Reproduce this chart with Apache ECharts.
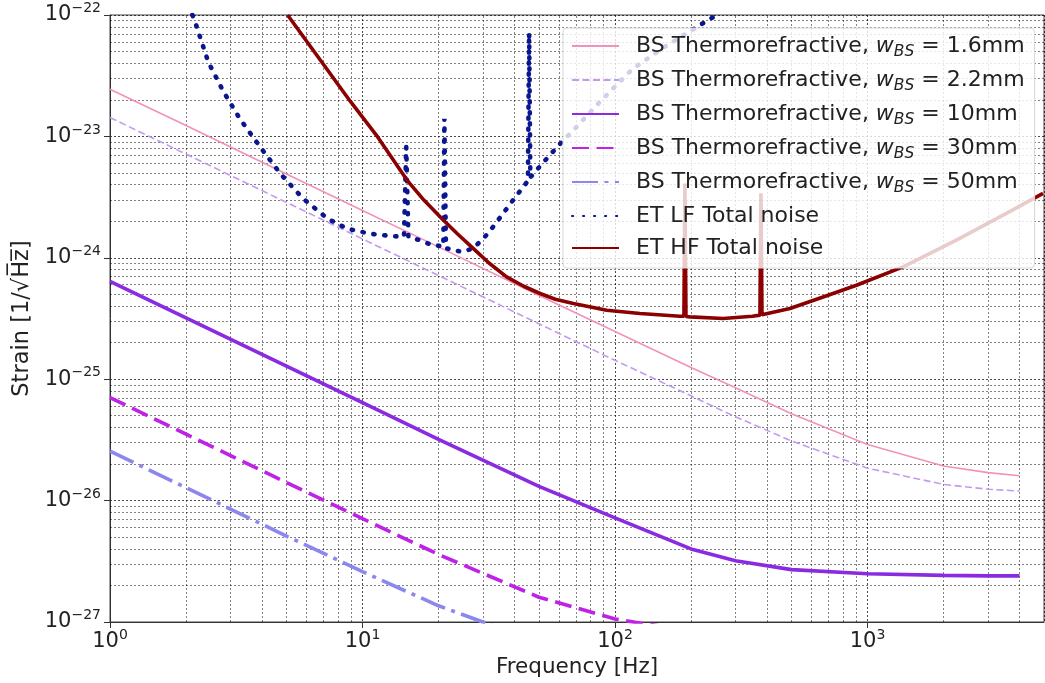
<!DOCTYPE html>
<html>
<head>
<meta charset="utf-8">
<script src="https://cdn.jsdelivr.net/npm/echarts@6/dist/echarts.min.js"></script>
<style>
  html, body { margin: 0; padding: 0; background: #fff; }
  #chart { width: 1045px; height: 683px; }
</style>
</head>
<body>
<div id="chart"></div>
<script>
// beam splitter thermorefractive noise, one curve per beam size
var freqBS = [1, 2, 5, 10, 20, 50, 100, 200, 300, 500, 1000, 2000, 3000, 4000];
var bs16 = [2.45e-23, 1.23e-23, 4.9e-24, 2.45e-24, 1.23e-24, 4.9e-25, 2.47e-25, 1.25e-25, 8.5e-26, 5.2e-26, 2.9e-26, 1.93e-26, 1.7e-26, 1.6e-26];
var bs22 = [1.43e-23, 7.15e-24, 2.86e-24, 1.43e-24, 7.15e-25, 2.86e-25, 1.43e-25, 7.3e-26, 4.9e-26, 3.1e-26, 1.85e-26, 1.36e-26, 1.24e-26, 1.2e-26];
var bs10 = [6.4e-25, 3.2e-25, 1.28e-25, 6.4e-26, 3.2e-26, 1.31e-26, 7.2e-27, 4.0e-27, 3.2e-27, 2.7e-27, 2.5e-27, 2.42e-27, 2.4e-27, 2.4e-27];
var freqBS30 = [1, 2, 5, 10, 20, 50, 100, 125, 150];
var bs30 = [7.05e-26, 3.53e-26, 1.41e-26, 7.1e-27, 3.6e-27, 1.6e-27, 1.06e-27, 9.8e-28, 9.3e-28];
var freqBS50 = [1, 2, 5, 10, 20, 30, 40];
var bs50 = [2.55e-26, 1.28e-26, 5.1e-27, 2.6e-27, 1.36e-27, 1.0e-27, 8.0e-28];

// ET low frequency total noise
var freqLF = [2.12, 2.16, 2.45, 2.81, 3.28, 3.93, 4.72, 5.79, 7.3, 8.68, 10.66, 13.06, 14.6, 14.9, 15.2, 16.82, 18.53, 20.3, 20.9, 21.1, 21.4, 22.44, 24.73, 27.34, 29.67, 31.5, 35.6, 40.2, 45.2, 45.7, 46.2, 52.0, 60.0, 69.4, 87.2, 118, 158, 223, 253];
var ampLF = [1.0e-22, 9.1e-23, 4.1e-23, 2.35e-23, 1.38e-23, 8.2e-24, 4.95e-24, 3.1e-24, 2.09e-24, 1.74e-24, 1.58e-24, 1.51e-24, 1.49e-24, 8.2e-24, 1.48e-24, 1.4e-24, 1.29e-24, 1.25e-24, 1.24e-24, 1.4e-23, 1.2e-24, 1.17e-24, 1.12e-24, 1.19e-24, 1.4e-24, 1.6e-24, 2.24e-24, 3.14e-24, 4.3e-24, 7.1e-23, 4.6e-24, 6.1e-24, 8.5e-24, 1.16e-23, 1.93e-23, 3.63e-23, 5.5e-23, 8.55e-23, 1.0e-22];

// ET high frequency total noise
var freqHF = [5.05, 8.94, 11.5, 15.0, 17.5, 20.6, 23.8, 27.5, 31.6, 37.2, 43.5, 50.5, 58, 68.4, 92.7, 125.6, 180.8, 187.5, 189.2, 191, 198, 268.5, 350, 375, 378.4, 382, 493, 667, 904, 1383, 2249, 3548, 4955];
var ampHF = [1.0e-22, 1.95e-23, 9.86e-24, 4.37e-24, 2.99e-24, 2.11e-24, 1.57e-24, 1.19e-24, 9.1e-25, 6.97e-25, 5.83e-25, 5.08e-25, 4.56e-25, 4.2e-25, 3.7e-25, 3.48e-25, 3.3e-25, 3.3e-25, 4.1e-24, 3.28e-25, 3.26e-25, 3.16e-25, 3.3e-25, 3.37e-25, 3.4e-24, 3.4e-25, 3.82e-25, 4.76e-25, 5.94e-25, 8.41e-25, 1.4e-24, 2.32e-24, 3.39e-24];

var seriesNames = [
    'BS Thermorefractive, w_BS = 1.6mm',
    'BS Thermorefractive, w_BS = 2.2mm',
    'BS Thermorefractive, w_BS = 10mm',
    'BS Thermorefractive, w_BS = 30mm',
    'BS Thermorefractive, w_BS = 50mm',
    'ET LF Total noise',
    'ET HF Total noise'
];
var legendRich = {
    'BS Thermorefractive, w_BS = 1.6mm': '1.6mm',
    'BS Thermorefractive, w_BS = 2.2mm': '2.2mm',
    'BS Thermorefractive, w_BS = 10mm': '10mm',
    'BS Thermorefractive, w_BS = 30mm': '30mm',
    'BS Thermorefractive, w_BS = 50mm': '50mm'
};

var FONT = 'DejaVu Sans';
// the log axis loses precision below 1e-20, so strain is plotted in units of 1e-27
var YEXP = -27;
var YSCALE = 1e27;

function zip(xs, ys) {
    var out = [];
    for (var i = 0; i < xs.length; i++) out.push([xs[i], ys[i] * YSCALE]);
    return out;
}

// 10^n style label, offset is added to the exponent
function powLabel(offset) {
    return function (v) {
        var e = Math.log(v) / Math.LN10;
        var r = Math.round(e);
        if (Math.abs(e - r) > 1e-6) return '';
        r += offset;
        var s = r < 0 ? '\u2212' + (-r) : '' + r;
        return '{b|10}{s|' + s + '}';
    };
}

var powRich = {
    b: { fontSize: 21, fontFamily: FONT, color: '#222' },
    s: { fontSize: 14, fontFamily: FONT, color: '#222', padding: [0, 0, 13, 0] }
};

// minor grid lines at 2..9 x 10^k
var minorX = [], minorY = [];
for (var k = 0; k < 4; k++) {
    for (var m = 2; m <= 9; m++) {
        var v = m * Math.pow(10, k);
        if (v < 5000) minorX.push({ xAxis: v });
    }
}
for (var k = 0; k < 5; k++) {
    for (var m = 2; m <= 9; m++) minorY.push({ yAxis: m * Math.pow(10, k) });
}

function lineSeries(name, data, color, width, type, cap) {
    return {
        name: name,
        type: 'line',
        data: data,
        symbol: 'none',
        showSymbol: false,
        clip: true,
        silent: true,
        animation: false,
        lineStyle: { color: color, width: width, type: type || 'solid', cap: cap || 'butt' },
        itemStyle: { color: color }
    };
}

var myChart = echarts.init(document.getElementById('chart'));
var option = {
    backgroundColor: '#fff',
    animation: false,
    grid: {
        left: 110, top: 15, right: 1, bottom: 61,
        show: true, borderColor: '#444', borderWidth: 1,
        outerBoundsMode: 'none'
    },
    legend: {
        data: seriesNames,
        orient: 'vertical',
        left: 563, top: 28,
        padding: [6, 10, 8, 8],
        itemWidth: 47, itemHeight: 14, itemGap: 8,
        backgroundColor: 'rgba(255,255,255,0.8)',
        borderColor: '#d8d8d8', borderWidth: 1, borderRadius: 4,
        selectedMode: false,
        itemStyle: { color: 'rgba(0,0,0,0)', borderWidth: 0, opacity: 0 },
        formatter: function (name) {
            if (legendRich[name]) {
                return '{g|}BS Thermorefractive, {it|w}{sub|BS}{n| = ' + legendRich[name] + '}';
            }
            return '{g|}' + name;
        },
        textStyle: {
            fontSize: 22, fontFamily: FONT, color: '#222', lineHeight: 24,
            rich: {
                g: { width: 12 },
                it: { fontSize: 22, fontFamily: FONT, fontStyle: 'italic', color: '#222' },
                sub: { fontSize: 15.5, fontFamily: FONT, fontStyle: 'italic', color: '#222', padding: [12, 0, 0, 0] },
                n: { fontSize: 22, fontFamily: FONT, color: '#222' }
            }
        }
    },
    xAxis: {
        type: 'log', logBase: 10, min: 1, max: 5000, interval: 1,
        name: 'Frequency [Hz]', nameLocation: 'middle', nameGap: 34,
        nameTextStyle: { fontSize: 21.5, fontFamily: FONT, color: '#222' },
        axisLine: { show: true, lineStyle: { color: '#333' } },
        axisTick: { show: true, length: 6, lineStyle: { color: '#333' } },
        axisLabel: { margin: 6, formatter: powLabel(0), rich: powRich, showMaxLabel: false },
        splitLine: { show: true, lineStyle: { color: 'rgba(0,0,0,0.7)', type: [2, 2], width: 1 } }
    },
    yAxis: {
        type: 'log', logBase: 10, min: 1, max: 1e5, interval: 1,
        name: 'Strain [1/\u221AH\u0305z\u0305]', nameLocation: 'middle', nameGap: 75, nameRotate: 90,
        nameTextStyle: { fontSize: 22.5, fontFamily: FONT, color: '#222' },
        axisLine: { show: true, lineStyle: { color: '#333' } },
        axisTick: { show: true, length: 6, lineStyle: { color: '#333' } },
        axisLabel: { margin: 9, formatter: powLabel(YEXP), rich: powRich, showMinLabel: true, showMaxLabel: true },
        splitLine: { show: true, lineStyle: { color: 'rgba(0,0,0,0.7)', type: [2, 2], width: 1 } }
    },
    series: [
        {
            name: 'minor grid',
            type: 'line',
            data: [],
            silent: true,
            animation: false,
            markLine: {
                silent: true, animation: false, symbol: 'none', z: 1,
                label: { show: false },
                lineStyle: { color: 'rgba(0,0,0,0.55)', type: [2, 2], width: 0.9 },
                data: minorX.concat(minorY)
            }
        },
        lineSeries(seriesNames[0], zip(freqBS, bs16), '#f291bb', 1.6),
        lineSeries(seriesNames[1], zip(freqBS, bs22), '#c39af0', 1.6, [7, 3.5]),
        lineSeries(seriesNames[2], zip(freqBS, bs10), '#8a2be2', 3.6),
        lineSeries(seriesNames[3], zip(freqBS30, bs30), '#bf22e6', 3.6, [17, 7.5]),
        lineSeries(seriesNames[4], zip(freqBS50, bs50), '#8c87ee', 3.6, [26, 6.5, 4, 6.5]),
        lineSeries(seriesNames[5], zip(freqLF, ampLF), '#0a1690', 4.6, [1.2, 9.8], 'round'),
        lineSeries(seriesNames[6], zip(freqHF, ampHF), '#8b0000', 3.6)
    ]
};
myChart.setOption(option);
</script>
</body>
</html>
